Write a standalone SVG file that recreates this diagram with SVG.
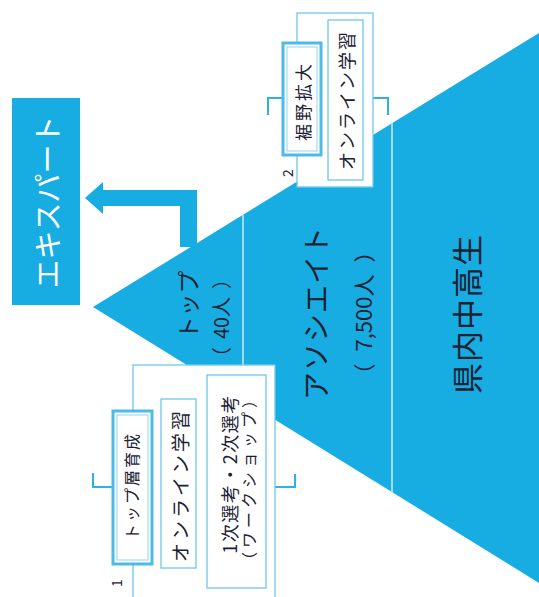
<svg xmlns="http://www.w3.org/2000/svg" width="539" height="597" viewBox="0 0 539 597">
<style>
  text { font-family: "Noto Sans CJK JP", "Noto Sans", sans-serif; fill: #1c2233; text-anchor: middle; dominant-baseline: central; }
  .blue { fill: #17ade2; }
  .box { fill: #ffffff; stroke: #6cc8ec; stroke-width: 1.3; }
  .dbl { fill: #ffffff; stroke: #4dbbe8; stroke-width: 3; }
  .dblin { fill: none; stroke: #8fd5f1; stroke-width: 1; }
  .brk { fill: none; stroke: #2fb1e5; stroke-width: 2; }
  .div { stroke: #c9ecf8; stroke-width: 1.5; }
</style>

<g id="pyramid">
  <polygon class="blue" points="93,307 539,33 539,583"/>
  <line class="div" x1="243" y1="215" x2="243" y2="400"/>
  <line class="div" x1="392" y1="123" x2="392" y2="493"/>
  <text transform="translate(187,305) rotate(-90)" font-size="23">トップ</text>
  <text transform="translate(220,318) rotate(-90)" font-size="20">（<tspan dx="8">40人</tspan><tspan dx="8">）</tspan></text>
  <text transform="translate(315,313) rotate(-90)" font-size="28" letter-spacing="1">アソシエイト</text>
  <text transform="translate(362,313) rotate(-90)" font-size="22">（<tspan dx="12">7,500人</tspan><tspan dx="12">）</tspan></text>
  <text transform="translate(465,314) rotate(-90)" font-size="31" letter-spacing="1">県内中高生</text>
</g>

<g id="expert">
  <rect class="blue" x="12" y="98" width="68" height="207"/>
  <text transform="translate(46,202) rotate(-90)" font-size="29" style="fill:#ffffff">エキスパート</text>
</g>

<g id="connectors">
  <polygon class="blue" points="85,198 103,182 103,190 197,190 197,247 180,247 180,206 103,206 103,214"/>
  <polyline class="brk" points="93,473 93,487 113,487"/>
  <polyline class="brk" points="295,474 295,487 275,487"/>
  <polyline class="brk" points="268,115 268,98 285,98"/>
  <polyline class="brk" points="373,98 388,98 388,115"/>
</g>

<g id="group1">
  <rect class="box" x="133" y="365" width="142" height="240"/>
  <rect class="dbl" x="113" y="411" width="39" height="153"/>
  <rect class="dblin" x="117" y="415" width="31" height="145"/>
  <text transform="translate(131,486) rotate(-90)" font-size="16" letter-spacing="2">トップ層育成</text>
  <rect class="box" x="161" y="399" width="35" height="169"/>
  <text transform="translate(179,485) rotate(-90)" font-size="19" letter-spacing="3">オンライン学習</text>
  <rect class="box" x="207" y="375" width="59" height="213"/>
  <text transform="translate(229,474) rotate(-90)" font-size="18" letter-spacing="1.5">1次選考・2次選考</text>
  <text transform="translate(248,478) rotate(-90)" font-size="16" letter-spacing="4">（ワークショップ）</text>
  <text transform="translate(116,583) rotate(-90)" font-size="14">1</text>
</g>

<g id="group2">
  <rect class="box" x="297" y="13" width="76" height="174"/>
  <rect class="dbl" x="283" y="43" width="38" height="112"/>
  <rect class="dblin" x="287" y="47" width="30" height="104"/>
  <text transform="translate(302,101) rotate(-90)" font-size="17" letter-spacing="3">裾野拡大</text>
  <rect class="box" x="328" y="20" width="35" height="160"/>
  <text transform="translate(346,100) rotate(-90)" font-size="18" letter-spacing="2">オンライン学習</text>
  <text transform="translate(287,173) rotate(-90)" font-size="14">2</text>
</g>
</svg>
